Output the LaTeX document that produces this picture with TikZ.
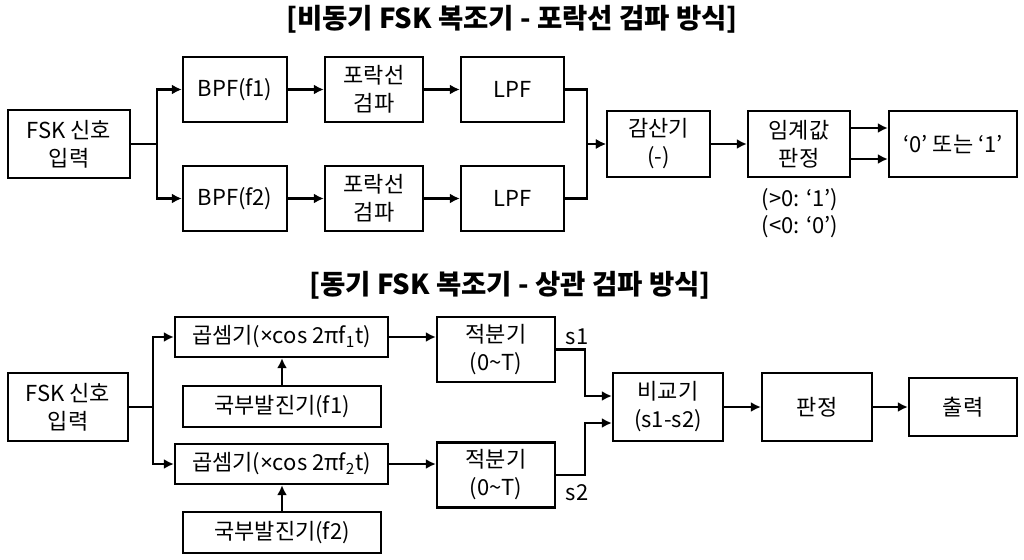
\documentclass[tikz,border=0pt]{standalone}
\usepackage{fontspec}
\setmainfont{Noto Sans CJK KR}
\newfontfamily\latinfont{Noto Sans}
\usetikzlibrary{arrows.meta}

\begin{document}
\begin{tikzpicture}[x=1pt, y=-1pt, line width=2.3pt,
  block/.style={draw, align=center, inner sep=0pt, font=\fontsize{22}{28}\selectfont},
  arr/.style={-{Latex[length=10pt,width=10pt]}},
  lbl/.style={font=\fontsize{22}{27}\selectfont, align=center}]
  \useasboundingbox (0,0) rectangle (1024,559);

  % Title (top)
  \node[font=\fontsize{27.5}{32}\selectfont\bfseries] (title1) at (512,19) {[비동기 FSK 복조기 - 포락선 검파 방식]};

  % Input and branches (top)
  \node[block, minimum width=122, minimum height=68] (in1) at (69,144) {FSK 신호\\입력};
  \node[block, minimum width=104, minimum height=65] (bpf1) at (235,89.5) {BPF(f1)};
  \node[block, minimum width=98,  minimum height=65] (env1) at (374,89.5) {포락선\\검파};
  \node[block, minimum width=103, minimum height=65] (lpf1) at (512.5,89.5) {LPF};
  \node[block, minimum width=104, minimum height=65] (bpf2) at (235,198.5) {BPF(f2)};
  \node[block, minimum width=98,  minimum height=65] (env2) at (374,198.5) {포락선\\검파};
  \node[block, minimum width=103, minimum height=65] (lpf2) at (512.5,198.5) {LPF};

  % Decision chain (top)
  \node[block, minimum width=103, minimum height=66] (sub) at (658.5,144) {감산기\\(-)};
  \node[block, minimum width=102, minimum height=66] (thr) at (799,144) {임계값\\판정};
  \node[block, minimum width=128, minimum height=66] (bit) at (953,144) {‘0’ 또는 ‘1’};
  \node[lbl] (rule) at (800,213.5) {(>0: ‘1’)\\(<0: ‘0’)};

  % Arrows (top)
  \draw[arr] (in1.east) -- ++(26,0) |- (bpf1.west);
  \draw[arr] (in1.east) -- ++(26,0) |- (bpf2.west);
  \draw[arr] (bpf1) -- (env1);
  \draw[arr] (env1) -- (lpf1);
  \draw[arr] (bpf2) -- (env2);
  \draw[arr] (env2) -- (lpf2);
  \draw[arr] (lpf1.east) -- ++(22,0) |- (sub.west);
  \draw[arr] (lpf2.east) -- ++(22,0) |- (sub.west);
  \draw[arr] (sub) -- (thr);
  \draw[arr] ([yshift=16pt]thr.east) -- ([yshift=16pt]bit.west);
  \draw[arr] ([yshift=-15pt]thr.east) -- ([yshift=-15pt]bit.west);

  % Title (bottom)
  \node[font=\fontsize{27.5}{32}\selectfont\bfseries] (title2) at (510,285) {[동기 FSK 복조기 - 상관 검파 방식]};

  % Mixers and oscillators (bottom)
  \node[block, minimum width=120, minimum height=68] (in2) at (68,407) {FSK 신호\\입력};
  \node[block, minimum width=213, minimum height=40] (mul1) at (281.5,337) {곱셈기({\latinfont×}cos 2πf\textsubscript{1}t)};
  \node[block, minimum width=198, minimum height=41] (osc1) at (282,406.5) {국부발진기(f1)};
  \node[block, minimum width=213, minimum height=40] (mul2) at (281.5,464) {곱셈기({\latinfont×}cos 2πf\textsubscript{2}t)};
  \node[block, minimum width=198, minimum height=41] (osc2) at (282,532.5) {국부발진기(f2)};

  % Integrators and decision (bottom)
  \node[block, minimum width=118, minimum height=65] (int1) at (496,349.5) {적분기\\(0\textasciitilde T)};
  \node[block, minimum width=118, minimum height=65] (int2) at (496,475) {적분기\\(0\textasciitilde T)};
  \node[block, minimum width=110, minimum height=68] (cmp) at (668,407) {비교기\\(s1-s2)};
  \node[block, minimum width=110, minimum height=68] (dec) at (817,407) {판정};
  \node[block, minimum width=108, minimum height=58] (out) at (963,407) {출력};
  \node[lbl] (s1) at (577,337) {s1};
  \node[lbl] (s2) at (577,493) {s2};

  % Arrows (bottom)
  \draw[arr] (in2.east) -- ++(24,0) |- (mul1.west);
  \draw[arr] (in2.east) -- ++(24,0) |- (mul2.west);
  \draw[arr] (osc1.north) -- (osc1.north |- mul1.south);
  \draw[arr] (osc2.north) -- (osc2.north |- mul2.south);
  \draw[arr] (mul1.east) -- (mul1.east -| int1.west);
  \draw[arr] (mul2.east) -- (mul2.east -| int2.west);
  \draw[arr] (int1.east) -- ++(29,0) |- ([yshift=11pt]cmp.west);
  \draw[arr] (int2.east) -- ++(29,0) |- ([yshift=-16pt]cmp.west);
  \draw[arr] (cmp) -- (dec);
  \draw[arr] (dec) -- (out);
\end{tikzpicture}
\end{document}
